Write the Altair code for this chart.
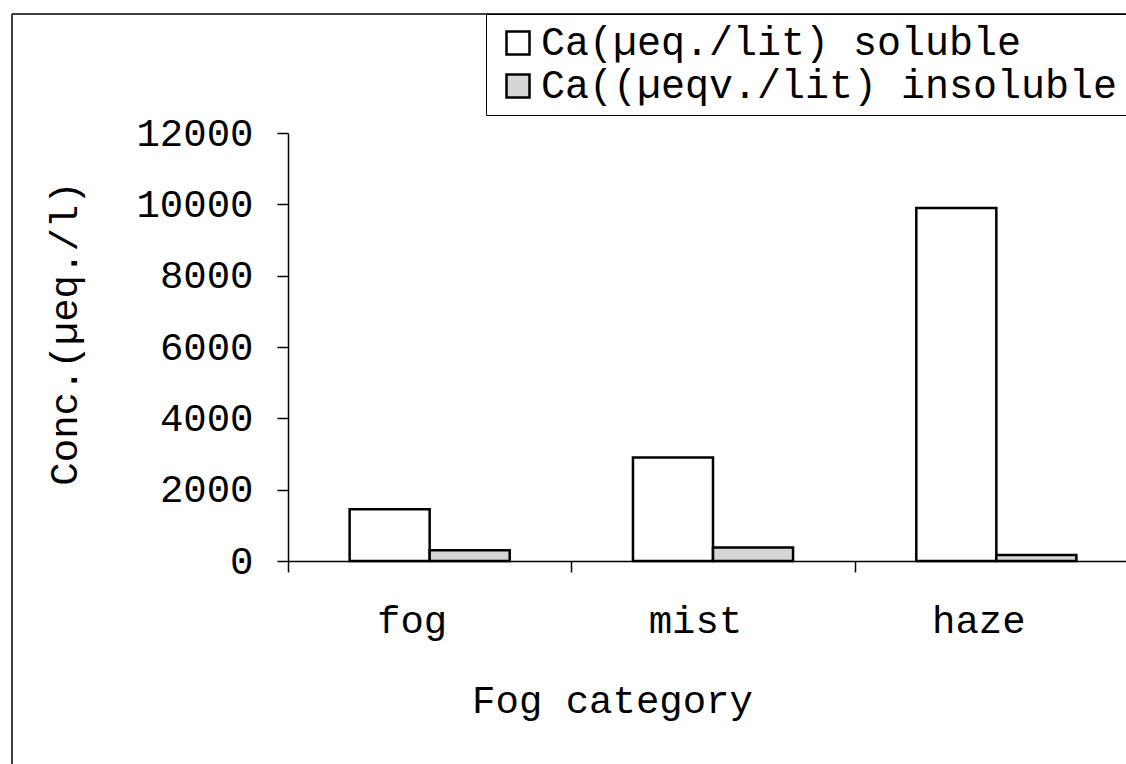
import altair as alt
import pandas as pd

# Calcium concentration by fog category
categories = ["fog", "mist", "haze"]
series_names = ["Ca(µeq./lit) soluble", "Ca((µeqv./lit) insoluble"]
soluble = [1450, 2900, 9900]
insoluble = [300, 380, 170]
y_ticks = [0, 2000, 4000, 6000, 8000, 10000, 12000]

rows = []
for cat, s, i in zip(categories, soluble, insoluble):
    rows.append({"category": cat, "series": series_names[0], "value": s})
    rows.append({"category": cat, "series": series_names[1], "value": i})
df = pd.DataFrame(rows)

FONT = "Liberation Mono"

bars = alt.Chart(df).mark_bar(stroke="black", strokeWidth=2.5).encode(
    x=alt.X(
        "category:N",
        sort=categories,
        scale=alt.Scale(range=[0, 850], paddingInner=0, paddingOuter=0),
        axis=alt.Axis(
            title="Fog category",
            labelAngle=0,
            labelFont=FONT,
            labelFontSize=39,
            labelColor="black",
            labelBaseline="alphabetic",
            labelPadding=60,
            labelOffset=-18,
            tickBand="extent",
            tickSize=11,
            tickColor="black",
            domainColor="black",
            tickWidth=1.5,
            domainWidth=1.5,
            titleFont=FONT,
            titleFontSize=39,
            titleFontWeight="normal",
            titleColor="black",
            titleX=324,
            titleY=151,
            titleAlign="center",
            titleBaseline="alphabetic",
        ),
    ),
    xOffset=alt.XOffset(
        "series:N",
        sort=series_names,
        scale=alt.Scale(paddingInner=0, paddingOuter=0.77),
    ),
    y=alt.Y(
        "value:Q",
        scale=alt.Scale(domain=[0, 12000], nice=False),
        axis=alt.Axis(
            title="Conc.(µeq./l)",
            values=y_ticks,
            format="d",
            grid=False,
            labelFont=FONT,
            labelFontSize=39,
            labelColor="black",
            labelPadding=24,
            tickSize=11,
            tickColor="black",
            domainColor="black",
            tickWidth=1.5,
            domainWidth=1.5,
            titleFont=FONT,
            titleFontSize=39,
            titleFontWeight="normal",
            titleColor="black",
            titleX=-212,
            titleY=200,
            titleAlign="center",
            titleBaseline="alphabetic",
        ),
    ),
    color=alt.Color(
        "series:N",
        sort=series_names,
        scale=alt.Scale(domain=series_names, range=["#ffffff", "#d6d6d6"]),
        legend=alt.Legend(
            title=None,
            orient="none",
            legendX=198,
            legendY=-119,
            strokeColor="black",
            fillColor="white",
            padding=9,
            symbolType="square",
            symbolSize=529,
            symbolStrokeColor="black",
            symbolStrokeWidth=2.5,
            symbolOffset=3,
            labelFont=FONT,
            labelFontSize=40,
            labelColor="black",
            labelOffset=3,
            labelLimit=0,
            rowPadding=3,
        ),
    ),
)

# Outer chart-area frame (left and top edges)
frame_df = pd.DataFrame({"k": [0]})
frame_left = alt.Chart(frame_df).mark_rule(color="black", strokeWidth=1.5).encode(
    x=alt.value(-276), y=alt.value(-119), y2=alt.value(640)
)
frame_top = alt.Chart(frame_df).mark_rule(color="black", strokeWidth=1.5).encode(
    x=alt.value(-276), x2=alt.value(850), y=alt.value(-119)
)

chart = (
    alt.layer(frame_left, frame_top, bars)
    .properties(
        width=838,
        height=428,
        autosize=alt.AutoSizeParams(type="none"),
        padding={"left": 288, "top": 133, "right": 0, "bottom": 203},
        background="white",
    )
    .configure_view(stroke=None)
)

chart.save("out.html", embed_options={"renderer": "svg", "actions": False})
